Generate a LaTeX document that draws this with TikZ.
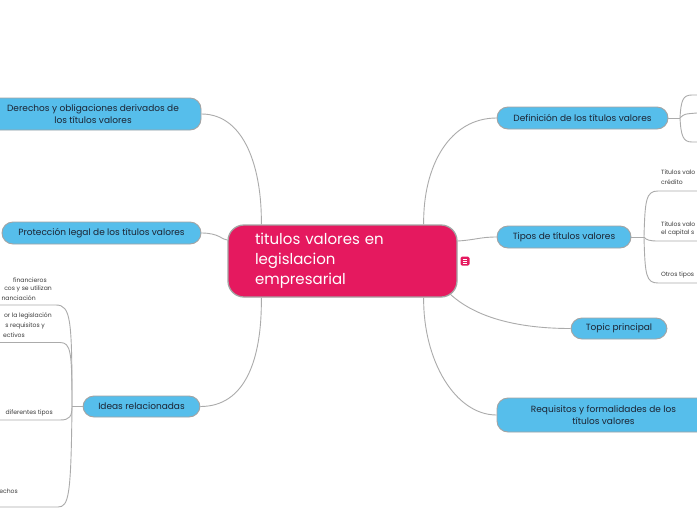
\documentclass[tikz,border=0pt]{standalone}
\usepackage{fontspec}
\setmainfont{Poppins}
\usetikzlibrary{calc}
\definecolor{topicblue}{HTML}{56BEEB}
\definecolor{centralred}{HTML}{E5195F}
\definecolor{bordergray}{HTML}{A3A3A3}
\definecolor{linegray}{HTML}{ABABAB}
\definecolor{topictext}{HTML}{1C2433}
\definecolor{subtext}{HTML}{3A3A3A}
\begin{document}
\begin{tikzpicture}[x=1pt,y=-1pt,
  topic/.style={draw=bordergray, line width=0.9pt, fill=topicblue, rounded corners=11pt,
    inner sep=0pt, align=center, text=topictext, font=\fontsize{9}{11.5}\selectfont},
  central/.style={draw=bordergray, line width=1.3pt, fill=centralred, rounded corners=16pt,
    inner ysep=0pt, inner xsep=27pt, text width=175pt, align=left, text=white,
    font=\fontsize{15}{20}\selectfont, minimum height=72pt},
  conn/.style={draw=linegray, line width=0.9pt},
  subw/.style={font=\fontsize{6.1}{7}\selectfont, text=subtext, anchor=west, inner sep=0pt},
  sube/.style={font=\fontsize{6.1}{7}\selectfont, text=subtext, anchor=east, inner sep=0pt}]
\useasboundingbox (0,0) rectangle (697,520);
\fill[white] (0,0) rectangle (697,520);
\clip (0,0) rectangle (697,520);

% central
\node[central] (c) at (342.5,261) {titulos valores en\\legislacion\\empresarial};
\node[fill=centralred, rounded corners=1.5pt, minimum size=9pt, inner sep=0pt] (icon) at (465,261) {};
\draw[white, line width=0.8pt] ($(icon.center)+(-2.3,-2)$) -- ++(4.6,0)
  ($(icon.center)+(-2.3,0)$) -- ++(4.6,0) ($(icon.center)+(-2.3,2)$) -- ++(4.6,0);

% main topics
\node[topic, minimum width=216pt, minimum height=32pt] (d) at (93,114)
  {Derechos y obligaciones derivados de\\los títulos valores};
\node[topic, minimum width=199pt, minimum height=22pt] (p) at (101.5,233)
  {Protección legal de los títulos valores};
\node[topic, minimum width=117pt, minimum height=21pt] (ir) at (141.5,406.5)
  {Ideas relacionadas};
\node[topic, minimum width=171pt, minimum height=22pt] (def) at (582.5,118)
  {Definición de los títulos valores};
\node[topic, minimum width=134pt, minimum height=22pt] (tip) at (564,237)
  {Tipos de títulos valores};
\node[topic, minimum width=96pt, minimum height=21pt] (tp) at (619,328.5)
  {Topic principal};
\node[topic, minimum width=213pt, minimum height=34pt] (req) at (603.5,415)
  {Requisitos y formalidades de los\\títulos valores};

% anchor coordinates on central node
\coordinate (cTL) at ([xshift=34pt]c.north west);
\coordinate (cTR) at ([xshift=-34pt]c.north east);
\coordinate (cBL) at ([xshift=34pt]c.south west);
\coordinate (cBR) at ([xshift=-34pt]c.south east);
\coordinate (cL) at ([yshift=21pt]c.west);
\coordinate (cR) at ([yshift=20pt]c.east);
\coordinate (cSE) at ([xshift=-8pt,yshift=4pt]c.south east);

% central connectors
\draw[conn] (d.east) .. controls +(44,0) and (262,170) .. (cTL);
\draw[conn] (p.east) .. controls +(18,0) and (222,240) .. (cL);
\draw[conn] (cBL) .. controls (262,360) and (245,406.5) .. (ir.east);
\draw[conn] (cTR) .. controls (423,165) and (450,118) .. (def.west);
\draw[conn] (cR) .. controls (475,240) and (480,237) .. (tip.west);
\draw[conn] (cSE) .. controls (480,322) and (530,328.5) .. (tp.west);
\draw[conn] (cBR) .. controls (423,360) and (455,415) .. (req.west);

% Definicion children
\coordinate (dj) at (680,118);
\coordinate (d1) at (697,95);
\coordinate (d2) at (697,113);
\coordinate (d3) at (697,142);
\draw[conn] (def.east) -- (dj);
\draw[conn] (dj) .. controls (681,100) and (683,95) .. (692,95) -- (d1);
\draw[conn] (dj) .. controls (684,114) .. (d2);
\draw[conn] (dj) .. controls (681,136) and (683,142) .. (692,142) -- (d3);

% Tipos children
\coordinate (tj) at (644,237);
\coordinate (t1) at (697,191);
\coordinate (t2) at (697,241);
\coordinate (t3) at (697,283);
\draw[conn] (tip.east) -- (tj);
\draw[conn] (tj) .. controls (645,200) and (646,191) .. (658,191) -- (t1);
\draw[conn] (tj) .. controls (646,240) and (650,241) .. (658,241) -- (t2);
\draw[conn] (tj) .. controls (645,275) and (646,283) .. (658,283) -- (t3);
\node[subw] (ta1) at (661,172) {Títulos valo};
\node[subw] (ta2) at (661,182) {crédito};
\node[subw] (tb1) at (661,224) {Títulos valo};
\node[subw] (tb2) at (661,233) {el capital s};
\node[subw] (tc1) at (661,275) {Otros tipos};

% Ideas children
\coordinate (ij) at (72,406.5);
\coordinate (i1) at (0,305);
\coordinate (i2) at (0,342.5);
\coordinate (i3) at (0,420);
\coordinate (i4) at (0,507);
\draw[conn] (ir.west) -- (ij);
\draw[conn] (ij) .. controls (72,320) and (71,305) .. (56,305) -- (i1);
\draw[conn] (ij) .. controls (72,352) and (71,342.5) .. (60,342.5) -- (i2);
\draw[conn] (ij) .. controls (72,416) and (70,420) .. (60,420) -- (i3);
\draw[conn] (ij) .. controls (71,495) and (69,507) .. (58,507) -- (i4);
\node[sube] (ia1) at (47,280) {financieros};
\node[sube] (ia2) at (52,289) {cos y se utilizan};
\node[sube] (ia3) at (36,298) {nanciación};
\node[sube] (ib1) at (52,316) {or la legislación};
\node[sube] (ib2) at (45,326) {s requisitos y};
\node[sube] (ib3) at (25,335) {ectivos};
\node[sube] (ic1) at (53,413) {diferentes tipos};
\node[sube] (id1) at (18,491) {echos};
\end{tikzpicture}
\end{document}
